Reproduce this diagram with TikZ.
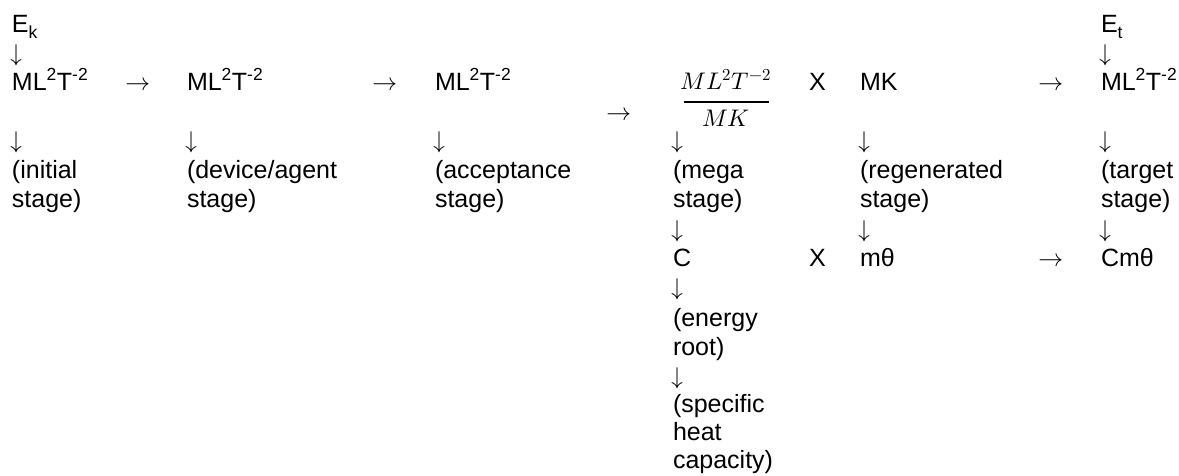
\documentclass[tikz,border=0pt]{standalone}
\usepackage{fontspec}
\setmainfont{Liberation Sans}
\usepackage{unicode-math}
\setmathfont{Latin Modern Math}
\tikzset{
  txt/.style={anchor=base west, inner sep=0pt, outer sep=0pt, font=\fontsize{25}{28.6}\selectfont, text=black},
  darr/.style={anchor=base west, inner sep=0pt, outer sep=0pt, font=\fontsize{24}{28}\selectfont, text=black},
  frac/.style={anchor=base, inner sep=0pt, outer sep=0pt, font=\fontsize{24}{28}\selectfont, text=black},
  fracbar/.style={line width=2pt, draw=black},
}
\newcommand{\dimML}{ML\textsuperscript{2}T\textsuperscript{-2}}
\newcommand{\dn}{$\downarrow$}
\newcommand{\rt}{$\rightarrow$}
\begin{document}
\begin{tikzpicture}[x=1pt,y=-1pt]
\fill[white] (0,0) rectangle (1179,475);
\useasboundingbox (0,0) rectangle (1179,475);
% column 1
\node[txt] (ek) at (12,32) {E\textsubscript{k}};
\node[darr] (d1a) at (10,61) {\dn};
\node[txt] (ml1) at (12,90) {\dimML};
\node[darr] (d1b) at (10,148) {\dn};
\node[txt] (l1a) at (12,178) {(initial};
\node[txt] (l1b) at (12,207) {stage)};
% arrow 1
\node[txt] (h1) at (125,90) {\rt};
% column 2
\node[txt] (ml2) at (187,90) {\dimML};
\node[darr] (d2) at (185,148) {\dn};
\node[txt] (l2a) at (187,178) {(device/agent};
\node[txt] (l2b) at (187,207) {stage)};
% arrow 2
\node[txt] (h2) at (372,90) {\rt};
% column 3
\node[txt] (ml3) at (435,90) {\dimML};
\node[darr] (d3) at (433,148) {\dn};
\node[txt] (l3a) at (435,178) {(acceptance};
\node[txt] (l3b) at (435,207) {stage)};
% arrow 3
\node[txt] (h3) at (606,120) {\rt};
% column 4 (fraction)
\node[frac] (num) at (726,89) {$ML^{2}T^{-2}$};
\node[frac] (den) at (726,126) {$MK$};
\coordinate (barL) at (684,102);
\coordinate (barR) at (769,102);
\draw[fracbar] (barL) -- (barR);
\node[darr] (d4a) at (671,148) {\dn};
\node[txt] (l4a) at (673,178) {(mega};
\node[txt] (l4b) at (673,207) {stage)};
\node[darr] (d4b) at (671,237) {\dn};
\node[txt] (c4) at (673,266) {C};
\node[darr] (d4c) at (671,295) {\dn};
\node[txt] (l4c) at (673,326) {(energy};
\node[txt] (l4d) at (673,355) {root)};
\node[darr] (d4d) at (671,384) {\dn};
\node[txt] (l4e) at (673,412) {(specific};
\node[txt] (l4f) at (673,440) {heat};
\node[txt] (l4g) at (673,468) {capacity)};
% times
\node[txt] (x1) at (809,90) {X};
\node[txt] (x2) at (809,266) {X};
% column 5
\node[txt] (mk) at (860,90) {MK};
\node[darr] (d5a) at (858,148) {\dn};
\node[txt] (l5a) at (860,178) {(regenerated};
\node[txt] (l5b) at (860,207) {stage)};
\node[darr] (d5b) at (858,237) {\dn};
\node[txt] (mt) at (860,266) {mθ};
% arrows 5
\node[txt] (h5a) at (1038,90) {\rt};
\node[txt] (h5b) at (1038,266) {\rt};
% column 6
\node[txt] (et) at (1101,32) {E\textsubscript{t}};
\node[darr] (d6a) at (1099,61) {\dn};
\node[txt] (ml6) at (1101,90) {\dimML};
\node[darr] (d6b) at (1099,148) {\dn};
\node[txt] (l6a) at (1101,178) {(target};
\node[txt] (l6b) at (1101,207) {stage)};
\node[darr] (d6c) at (1099,237) {\dn};
\node[txt] (cmt) at (1101,266) {Cmθ};
\end{tikzpicture}
\end{document}
